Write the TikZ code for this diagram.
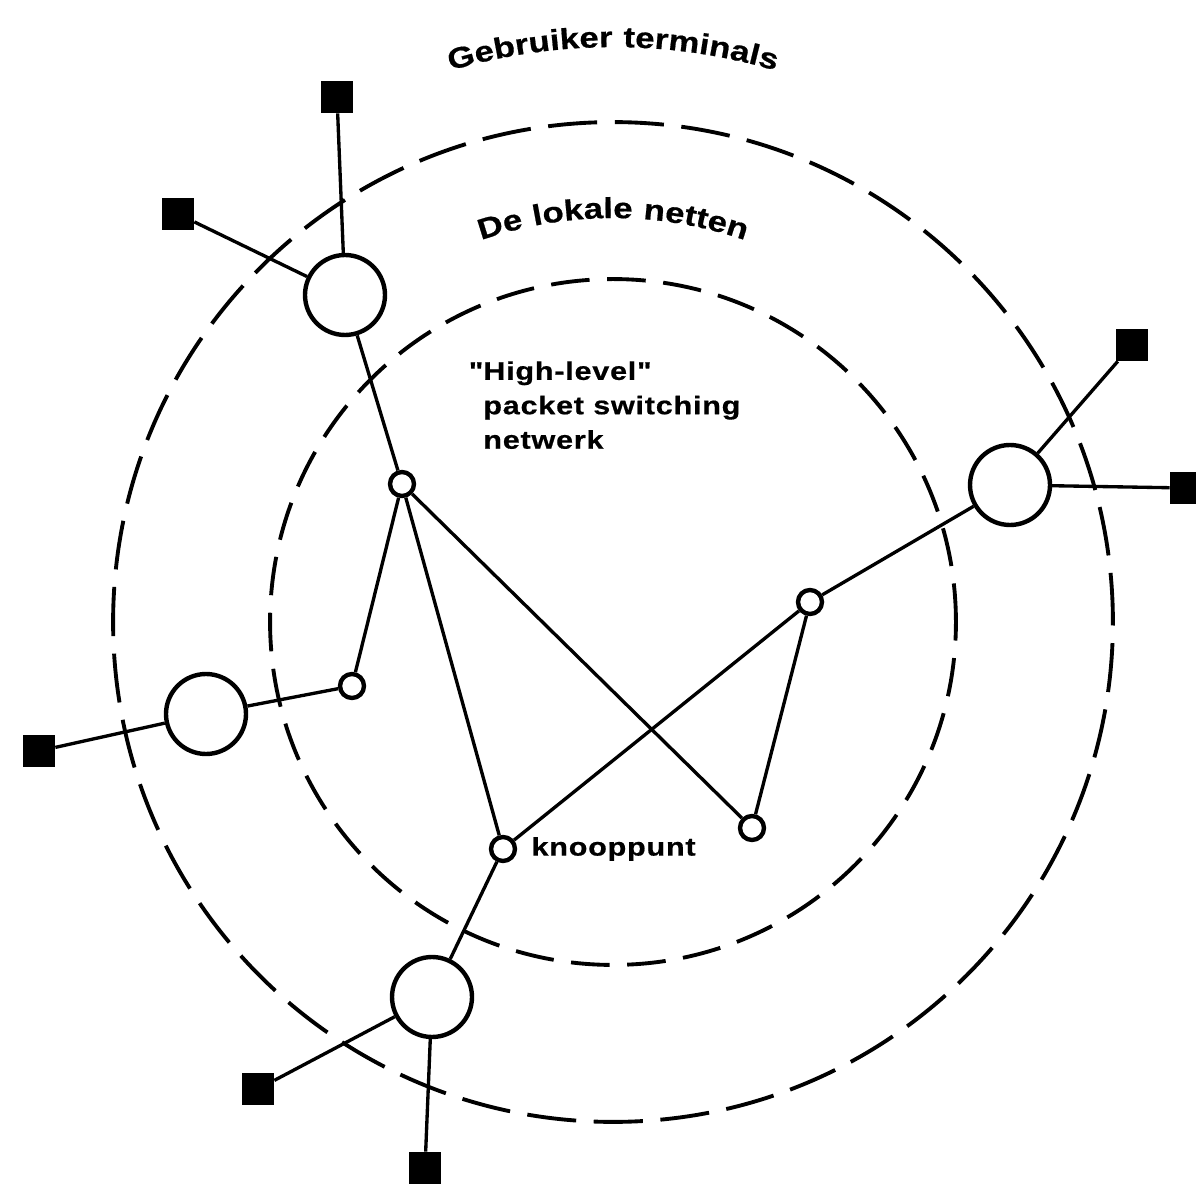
\documentclass[tikz,border=0pt]{standalone}
\usepackage{fontspec}
\setmainfont{Liberation Sans}
\newfontfamily\netfont[FakeStretch=1.2,LetterSpace=3,FakeBold=0.6]{Liberation Sans}
\newcommand\ringfont{\netfont\bfseries\fontsize{16.5}{18}\selectfont}
\usetikzlibrary{positioning,decorations.text}

\begin{document}
\begin{tikzpicture}[x=0.02cm, y=0.02cm,
  ring/.style={draw, line width=2.2pt, dash pattern=on #1 off 10pt},
  hub/.style={circle, draw, line width=2.5pt, fill=white, minimum size=1.6cm, inner sep=0pt},
  knoop/.style={circle, draw, line width=2.5pt, fill=white, minimum size=0.48cm, inner sep=0pt},
  term/.style={rectangle, fill=black, minimum size=0.64cm, inner sep=0pt},
  link/.style={line width=1.9pt},
  lbl/.style={font={\netfont\bfseries\fontsize{14.5}{19.6}\selectfont}, inner sep=0pt, align=left}]
  \useasboundingbox (0,0) rectangle (1196,1184);
  \coordinate (ctr) at (613,562);
  % rings
  \draw[ring=28pt] (ctr) circle[radius=10cm];
  \draw[ring=22pt] (ctr) circle[radius=6.86cm];
  \path[decorate, decoration={text along path, text align=center,
        text={|\ringfont|Gebruiker terminals}}]
    (ctr) ++(115:11.5cm) arc[start angle=115, end angle=65, radius=11.5cm];
  \path[decorate, decoration={text along path, text align=center,
        text={|\ringfont|De lokale netten}}]
    (ctr) ++(125:8.08cm) arc[start angle=125, end angle=55, radius=8.08cm];
  % local nets
  \node[hub] (hubNW) at (345,889) {};
  \node[hub] (hubE)  at (1010,699) {};
  \node[hub] (hubW)  at (206,470) {};
  \node[hub] (hubS)  at (432,187) {};
  % switching nodes
  \node[knoop] (kA) at (402,700) {};
  \node[knoop] (kB) at (352,498) {};
  \node[knoop] (kC) at (810,582) {};
  \node[knoop] (kD) at (752,356) {};
  \node[knoop] (kE) at (503,335) {};
  % terminals
  \node[term] (t1) at (337,1087) {};
  \node[term] (t2) at (178,970) {};
  \node[term] (t3) at (1132,839) {};
  \node[term] (t4) at (1186,696) {};
  \node[term] (t5) at (39,433) {};
  \node[term] (t6) at (258,95) {};
  \node[term] (t7) at (425,16) {};
  % connections
  \draw[link] (t1) -- (hubNW);
  \draw[link] (t2) -- (hubNW);
  \draw[link] (hubNW) -- (kA);
  \draw[link] (kA) -- (kB);
  \draw[link] (kB) -- (hubW);
  \draw[link] (hubW) -- (t5);
  \draw[link] (kA) -- (kE);
  \draw[link] (kA) -- (kD);
  \draw[link] (kD) -- (kC);
  \draw[link] (kC) -- (kE);
  \draw[link] (kC) -- (hubE);
  \draw[link] (hubE) -- (t3);
  \draw[link] (hubE) -- (t4);
  \draw[link] (kE) -- (hubS);
  \draw[link] (hubS) -- (t6);
  \draw[link] (hubS) -- (t7);
  % labels
  \node[lbl, anchor=north west] (core) at (483,823) {\llap{"}High-level"\\packet switching\\netwerk};
  \node[lbl, right=2.8mm of kE] (knooplbl) {knooppunt};
\end{tikzpicture}
\end{document}
